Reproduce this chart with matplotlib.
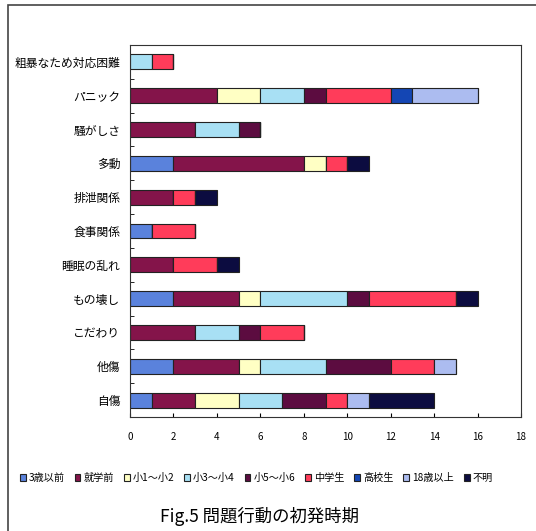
import matplotlib
matplotlib.use("Agg")
import matplotlib.pyplot as plt
from matplotlib.patches import Rectangle
import numpy as np

plt.rcParams['font.family'] = ['Noto Sans CJK JP', 'DejaVu Sans']

# 問題行動（下から順）
behaviors = ['自傷', '他傷', 'こだわり', 'もの壊し', '睡眠の乱れ', '食事関係',
             '排泄関係', '多動', '騒がしさ', 'パニック', '粗暴なため対応困難']

periods = ['3歳以前', '就学前', '小1～小2', '小3～小4', '小5～小6',
           '中学生', '高校生', '18歳以上', '不明']

# 各時期の人数（行 = 時期, 列 = behaviors）
age_3_before = [1, 2, 0, 2, 0, 1, 0, 2, 0, 0, 0]
preschool    = [2, 3, 3, 3, 2, 0, 2, 6, 3, 4, 0]
grade_1_2    = [2, 1, 0, 1, 0, 0, 0, 1, 0, 2, 0]
grade_3_4    = [2, 3, 2, 4, 0, 0, 0, 0, 2, 2, 1]
grade_5_6    = [2, 3, 1, 1, 0, 0, 0, 0, 1, 1, 0]
junior_high  = [1, 2, 2, 4, 2, 2, 1, 1, 0, 3, 1]
high_school  = [0, 0, 0, 0, 0, 0, 0, 0, 0, 1, 0]
over_18      = [1, 1, 0, 0, 0, 0, 0, 0, 0, 3, 0]
unknown      = [3, 0, 0, 1, 1, 0, 1, 1, 0, 0, 0]

series = [age_3_before, preschool, grade_1_2, grade_3_4, grade_5_6,
          junior_high, high_school, over_18, unknown]
colors = ['#5A82DC', '#84144A', '#FFFFC4', '#A8E0F4', '#5C0C40',
          '#FF3C5A', '#1446B4', '#ACBCF0', '#0C0C40']

fig = plt.figure(figsize=(5.36, 5.31), dpi=100)
ax = fig.add_axes([130/536, 1 - 417/531, (521 - 130)/536, (417 - 45)/531])

y = np.arange(len(behaviors))
left = np.zeros(len(behaviors))
handles = []
for vals, col, name in zip(series, colors, periods):
    vals = np.array(vals, dtype=float)
    b = ax.barh(y, vals, left=left, height=0.44, color=col,
                edgecolor='#222222', linewidth=0.8, label=name)
    handles.append(b)
    left += vals

ax.set_xlim(0, 18)
ax.set_ylim(-0.5, len(behaviors) - 0.5)
ax.set_xticks(range(0, 19, 2))
ax.tick_params(axis='x', direction='in', length=3, pad=11, labelsize=7)
ax.set_yticks(y)
ax.set_yticklabels(behaviors, fontsize=8.5)
ax.tick_params(axis='y', which='major', length=0, pad=7)
ax.set_yticks(np.arange(-0.5, len(behaviors), 1), minor=True)
ax.tick_params(axis='y', which='minor', direction='in', length=3)
for s in ax.spines.values():
    s.set_linewidth(0.8)
    s.set_color('#333333')

fig.legend(handles=handles, labels=periods, loc='center left',
           bbox_to_anchor=(16/536, 1 - 478/531), ncol=9, frameon=False,
           fontsize=7.3, handlelength=0.55, handleheight=0.8,
           handletextpad=0.3, columnspacing=1.0, borderaxespad=0)

fig.text(260/536, 1 - 516/531, 'Fig.5 問題行動の初発時期', ha='center',
         va='center', fontsize=12.5)

# 外枠
fig.add_artist(Rectangle((8/536, -0.1), 1.2, 1.1 - 5/531,
                         transform=fig.transFigure, fill=False,
                         edgecolor='#444444', linewidth=1.2))

fig.savefig('out.png', dpi=100)
